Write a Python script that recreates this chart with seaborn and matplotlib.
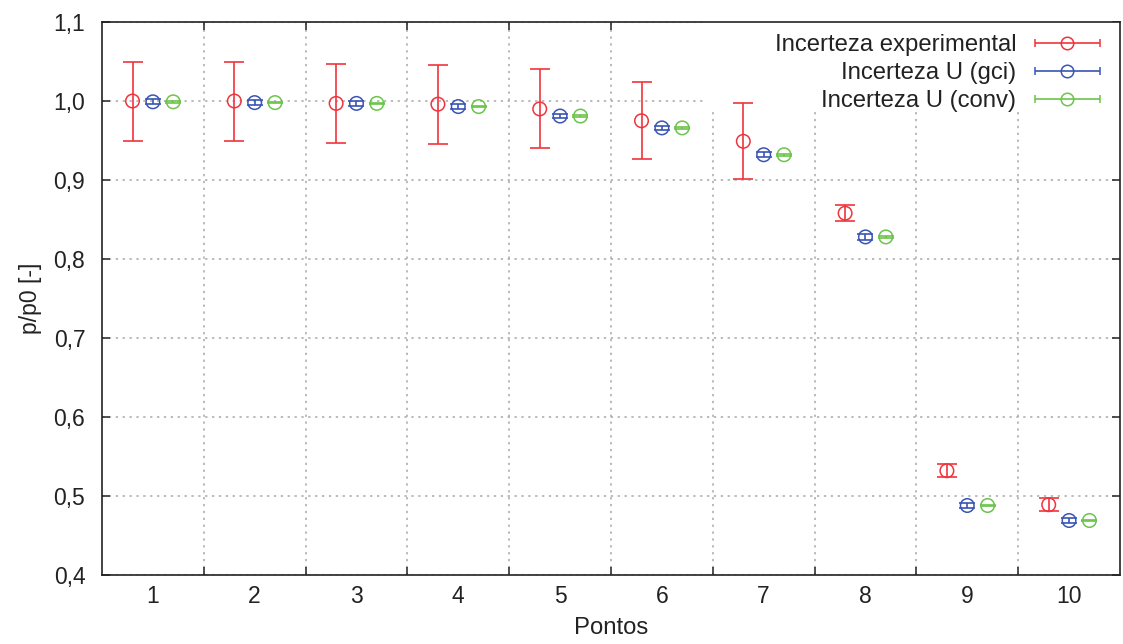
import numpy as np
import pandas as pd
import matplotlib
matplotlib.use("Agg")
import matplotlib.pyplot as plt
import seaborn as sns
from matplotlib.ticker import FixedLocator, FuncFormatter
from matplotlib.container import ErrorbarContainer
from matplotlib.legend_handler import HandlerErrorbar
from matplotlib.patches import Rectangle

# ---- data ----
pontos = [1, 2, 3, 4, 5, 6, 7, 8, 9, 10]
exp_val = [1.000, 1.000, 0.997, 0.996, 0.990, 0.975, 0.949, 0.858, 0.532, 0.489]
exp_err = [0.050, 0.050, 0.050, 0.050, 0.050, 0.049, 0.048, 0.010, 0.008, 0.008]
gci_val = [0.999, 0.998, 0.997, 0.993, 0.981, 0.966, 0.932, 0.828, 0.488, 0.469]
gci_err = [0.003, 0.003, 0.003, 0.003, 0.003, 0.003, 0.003, 0.004, 0.003, 0.003]
conv_val = [0.999, 0.998, 0.997, 0.993, 0.981, 0.966, 0.932, 0.828, 0.488, 0.469]
conv_err = [0.001, 0.001, 0.001, 0.001, 0.001, 0.001, 0.001, 0.001, 0.001, 0.001]
labels = ["Incerteza experimental", "Incerteza U (gci)", "Incerteza U (conv)"]
colors = ["#f0343c", "#3a55b4", "#6cc44c"]
offsets = [-0.2, 0.0, 0.2]
caps = [7, 6, 6]

FS = 16.5
LFS = 17.2
TXT = "#222222"

sns.set_theme(style="white")
plt.rcParams["font.family"] = ["Liberation Sans", "DejaVu Sans"]

fig = plt.figure(figsize=(11.23, 6.44), dpi=100)
ax = fig.add_axes([0.0908, 0.1071, 0.9065, 0.8587])

series = [(exp_val, exp_err), (gci_val, gci_err), (conv_val, conv_err)]
x = np.array(pontos, dtype=float)
handles = []
for (vals, errs), lab, col, off, cs in zip(series, labels, colors, offsets, caps):
    xs = x + off
    ax.errorbar(xs, vals, yerr=errs, fmt="none", ecolor=col, elinewidth=1.2,
                capsize=cs, capthick=1.2, zorder=3)
    df = pd.DataFrame({"x": xs, "y": vals})
    sns.scatterplot(data=df, x="x", y="y", ax=ax, marker="o", s=95,
                    facecolors="none", edgecolor=col, linewidth=1.1,
                    zorder=4, legend=False)
    h = ax.errorbar([np.nan], [np.nan], xerr=[1], fmt="o", mfc="none", mec=col,
                    ms=9, mew=1.1, ecolor=col, elinewidth=1.2, capsize=3,
                    capthick=1.2, label=lab)
    handles.append(h)

ax.set_xlim(0.5, 10.5)
ax.set_ylim(0.4, 1.1)

# major ticks at the boundaries (grid), labels at integer positions
ax.xaxis.set_major_locator(FixedLocator(np.arange(1.5, 10.0, 1.0)))
ax.xaxis.set_major_formatter(FuncFormatter(lambda v, p: ""))
ax.xaxis.set_minor_locator(FixedLocator(pontos))
ax.xaxis.set_minor_formatter(FuncFormatter(lambda v, p: f"{int(round(v))}"))
ax.set_yticks(np.arange(0.4, 1.101, 0.1))
ax.yaxis.set_major_formatter(FuncFormatter(lambda v, p: f"{v:.1f}".replace(".", ",")))

ax.tick_params(axis="both", which="major", direction="in", length=5.5, width=1.2,
               top=True, right=True, bottom=True, left=True, labelsize=FS,
               color="#333333", labelcolor=TXT)
ax.tick_params(axis="x", which="minor", length=0, labelsize=FS, pad=7,
               labelcolor=TXT)
ax.tick_params(axis="y", which="major", pad=12)

ax.grid(True, which="major", color="#a8a8a8", linestyle=(0, (1.5, 3)), linewidth=1.1)
ax.set_axisbelow(True)
for s in ax.spines.values():
    s.set_color("#222222")
    s.set_linewidth(1.2)

# white key area covering the grid behind the legend
ax.add_patch(Rectangle((0.592, 0.837), 0.408, 0.163, transform=ax.transAxes,
                       facecolor="white", edgecolor="none", zorder=1))

ax.set_xlabel("Pontos", fontsize=LFS, color=TXT, labelpad=7)
ax.set_ylabel("p/p0 [-]", fontsize=FS, color=TXT, labelpad=8)

leg = ax.legend(handles=handles, labels=labels, loc="upper right", markerfirst=False,
                fontsize=LFS, frameon=False, handlelength=2.75,
                handletextpad=0.75, labelspacing=0.25, borderaxespad=0.0,
                borderpad=0.5, bbox_to_anchor=(0.992, 1.0),
                handler_map={ErrorbarContainer: HandlerErrorbar(xerr_size=1.36)})
for t in leg.get_texts():
    t.set_color(TXT)
leg.set_zorder(5)

fig.savefig("out.png", dpi=100)
